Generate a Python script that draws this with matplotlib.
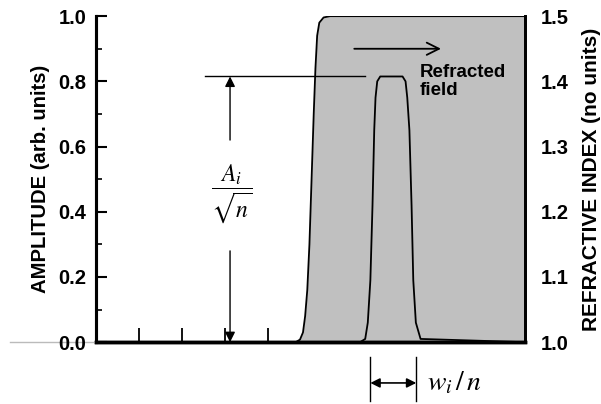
"""
plot.py
-------
Refracted pulse entering a medium with a higher refractive index:
amplitude (left axis) over the refractive-index step (right axis).
"""

import matplotlib
matplotlib.use("Agg")
import matplotlib.pyplot as plt
from matplotlib.ticker import MultipleLocator

# refractive index profile (right axis)
x_index = [0, 46.5, 47.5, 48.2, 48.7, 49.2, 49.7, 50.2, 50.7, 51.1, 51.5, 52.0, 53.0, 54.5, 100]
n_index = [1.0, 1.0, 1.004, 1.015, 1.04, 1.08, 1.15, 1.25, 1.35, 1.42, 1.47, 1.49, 1.498, 1.5, 1.5]

# refracted field amplitude (left axis)
x_pulse = [0, 61.5, 62.7, 63.3, 63.9, 64.4, 64.8, 65.1, 65.5, 66.2,
           71.4, 72.1, 72.5, 73.0, 73.5, 73.9, 74.5, 75.6, 100]
a_pulse = [0, 0, 0.01, 0.06, 0.19, 0.42, 0.65, 0.75, 0.80, 0.815,
           0.815, 0.80, 0.75, 0.65, 0.42, 0.19, 0.06, 0.01, 0]

amp_ticks = [0.0, 0.2, 0.4, 0.6, 0.8, 1.0]
index_ticks = [1.0, 1.1, 1.2, 1.3, 1.4, 1.5]
x_ticks = [10, 20, 30, 40]

peak = 0.815

plt.rcParams["font.family"] = "Liberation Sans"
plt.rcParams["mathtext.fontset"] = "stix"


def main():
    fig = plt.figure(figsize=(6.01, 4.04), dpi=100)
    ax = fig.add_axes([0.16, 0.153, 0.714, 0.807])
    ax2 = ax.twinx()

    # index step, grey filled
    ax2.fill_between(x_index, 1.0, n_index, color="#c0c0c0", lw=0)
    ax2.plot(x_index, n_index, color="black", lw=1.3)
    ax2.set_ylim(1.0, 1.5)
    ax2.set_yticks(index_ticks)
    ax2.set_yticklabels([f"{v:.1f}" for v in index_ticks],
                        fontsize=14.5, fontweight="bold")
    ax2.tick_params(axis="y", length=0, pad=11)
    ax2.set_ylabel("REFRACTIVE INDEX (no units)", fontsize=15,
                   fontweight="bold", labelpad=10)

    # field on top of the index
    ax.set_zorder(ax2.get_zorder() + 1)
    ax.patch.set_visible(False)
    ax.plot(x_pulse, a_pulse, color="black", lw=1.3)
    ax.set_xlim(0, 100)
    ax.set_ylim(0, 1.0)
    ax.set_yticks(amp_ticks)
    ax.set_yticklabels([f"{v:.1f}" for v in amp_ticks],
                       fontsize=14.5, fontweight="bold")
    ax.yaxis.set_minor_locator(MultipleLocator(0.1))
    ax.set_xticks(x_ticks)
    ax.set_xticklabels([])
    ax.tick_params(axis="y", which="major", direction="in", length=8, width=1.5, pad=7)
    ax.tick_params(axis="y", which="minor", direction="in", length=4, width=1.2)
    ax.tick_params(axis="x", which="major", direction="in", length=10, width=1.3)
    ax.set_ylabel("AMPLITUDE (arb. units)", fontsize=14.6, fontweight="bold", labelpad=6)

    for a in (ax, ax2):
        a.spines["top"].set_visible(False)
        a.spines["left"].set_linewidth(2.2)
        a.spines["right"].set_linewidth(2.0)
        a.spines["bottom"].set_linewidth(2.5)

    # grey baseline continuing to the left of the axes
    ax.plot([-20, 0], [0, 0], color="#bbbbbb", lw=1, clip_on=False, zorder=0)

    # propagation arrow
    ax.annotate("", xy=(81, 0.90), xytext=(59.5, 0.90),
                arrowprops=dict(arrowstyle="->", color="black", lw=1.3,
                                mutation_scale=22))
    ax.text(75.3, 0.80, "Refracted\nfield", fontsize=13.5, fontweight="bold",
            ha="left", va="center", linespacing=1.1)

    # amplitude marker
    ax.plot([25.4, 62.7], [peak, peak], color="black", lw=1)
    ax.annotate("", xy=(31.2, peak), xytext=(31.2, 0.62),
                arrowprops=dict(arrowstyle="-|>", color="black", lw=1,
                                mutation_scale=15, shrinkA=0, shrinkB=0))
    ax.annotate("", xy=(31.2, 0.0), xytext=(31.2, 0.28),
                arrowprops=dict(arrowstyle="-|>", color="black", lw=1,
                                mutation_scale=15, shrinkA=0, shrinkB=0))
    ax.text(31.6, 0.455, r"$\dfrac{A_i}{\sqrt{n}}$", fontsize=17,
            ha="center", va="center")

    # width marker below the axis
    for xv in (63.9, 74.6):
        ax.plot([xv, xv], [-0.045, -0.18], color="black", lw=1, clip_on=False)
    ax.annotate("", xy=(63.9, -0.125), xytext=(74.6, -0.125),
                arrowprops=dict(arrowstyle="<|-|>", color="black", lw=1.2,
                                mutation_scale=14, shrinkA=0, shrinkB=0),
                annotation_clip=False)
    ax.text(77.2, -0.125, r"$w_i\,/\,n$", fontsize=20, ha="left", va="center")

    fig.savefig("out.png", dpi=100)


if __name__ == "__main__":
    main()
